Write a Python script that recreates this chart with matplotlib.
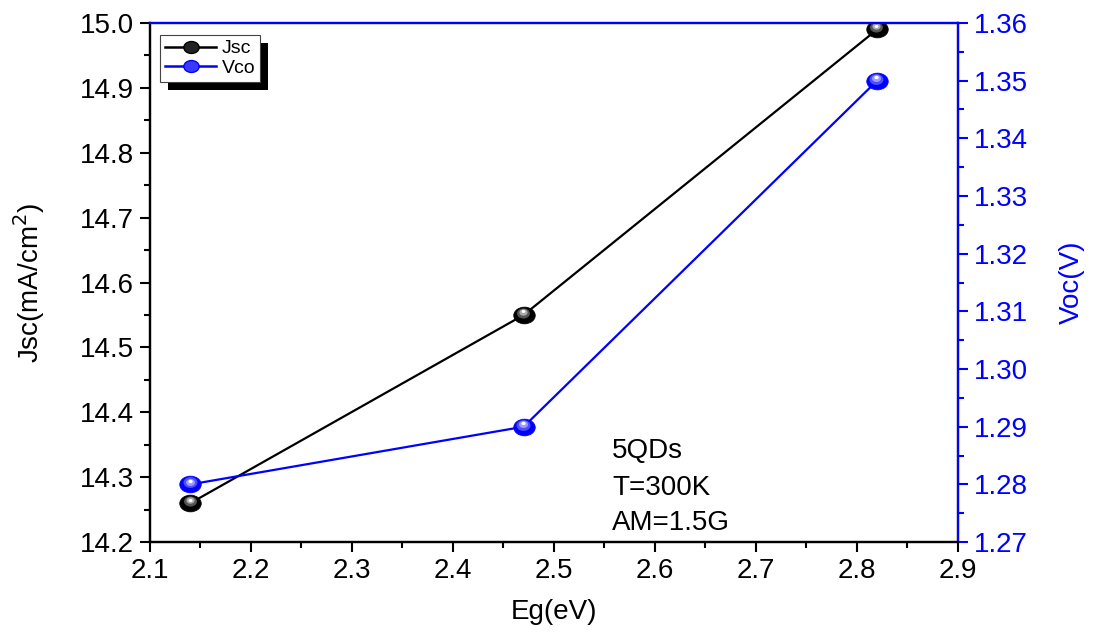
import numpy as np
import matplotlib.pyplot as plt
from matplotlib.path import Path
from matplotlib.patches import Rectangle
from matplotlib.transforms import offset_copy, Affine2D
from matplotlib.ticker import MultipleLocator, FormatStrFormatter

plt.rcParams['font.family'] = ['Liberation Sans', 'DejaVu Sans']

# band gap vs short-circuit current and open-circuit voltage
eg = [2.14, 2.47, 2.82]
jsc = [14.26, 14.55, 14.99]
voc = [1.28, 1.29, 1.35]

blue = '#0000ff'
fs = 20

# slightly flattened ball marker
ball = Path(Affine2D().scale(1.0, 0.78).transform(Path.unit_circle().vertices),
            Path.unit_circle().codes)

fig = plt.figure(figsize=(11.01, 6.37), dpi=100)
ax = fig.add_axes([0.1362, 0.149, 0.7339, 0.815])
ax2 = ax.twinx()


def shaded(axis, x, y, base, layers, ms=15.5):
    axis.plot(x, y, ls='none', marker=ball, ms=ms, mfc=base, mec=base, mew=0.5, zorder=4)
    for frac, dx, dy, col in layers:
        tr = offset_copy(axis.transData, fig=fig, x=dx, y=dy, units='points')
        axis.plot(x, y, ls='none', marker=ball, ms=ms * frac, mfc=col, mec='none',
                  transform=tr, zorder=5)


ax.plot(eg, jsc, color='black', lw=1.6, zorder=3)
shaded(ax, eg, jsc, 'black',
       [(0.6, -0.5, 1.6, '#555555'), (0.38, -0.6, 2.2, '#aaaaaa'),
        (0.18, -0.6, 2.6, 'white')])

ax2.plot(eg, voc, color=blue, lw=1.6, zorder=3)
shaded(ax2, eg, voc, blue,
       [(0.65, -0.5, 1.4, '#4d4dff'), (0.42, -0.6, 2.0, '#9a9aff'),
        (0.2, -0.6, 2.5, 'white')])

ax.set_xlim(2.1, 2.9)
ax.set_ylim(14.2, 15.0)
ax2.set_ylim(1.27, 1.36)

ax.xaxis.set_major_locator(MultipleLocator(0.1))
ax.xaxis.set_minor_locator(MultipleLocator(0.05))
ax.xaxis.set_major_formatter(FormatStrFormatter('%.1f'))
ax.yaxis.set_major_locator(MultipleLocator(0.1))
ax.yaxis.set_minor_locator(MultipleLocator(0.05))
ax.yaxis.set_major_formatter(FormatStrFormatter('%.1f'))
ax2.yaxis.set_major_locator(MultipleLocator(0.01))
ax2.yaxis.set_minor_locator(MultipleLocator(0.005))
ax2.yaxis.set_major_formatter(FormatStrFormatter('%.2f'))

for a in (ax, ax2):
    for s in a.spines.values():
        s.set_linewidth(1.6)
    a.spines['top'].set_color(blue)
ax2.spines['right'].set_color(blue)
ax2.spines['left'].set_color('black')

ax.tick_params(which='major', direction='out', length=7.5, width=1.5, labelsize=fs, pad=4)
ax.tick_params(which='minor', direction='out', length=4, width=1.5)
ax.tick_params(top=False, which='both')
ax2.tick_params(which='major', direction='out', length=7.5, width=1.5, labelsize=fs,
                colors=blue, pad=4)
ax2.tick_params(which='minor', direction='out', length=4, width=1.5, colors=blue)

ax.set_xlabel('Eg(eV)', fontsize=fs, labelpad=11)
ax.set_ylabel('Jsc(mA/cm$^2$)', fontsize=fs, labelpad=24)
ax2.set_ylabel('Voc(V)', fontsize=fs, color=blue, labelpad=22)

for txt, yy in [('5QDs', 0.162), ('T=300K', 0.091), ('AM=1.5G', 0.023)]:
    ax.text(0.572, yy, txt, transform=ax.transAxes, fontsize=fs, va='baseline', ha='left')

# legend with a solid offset shadow
h1 = ax.plot([], [], color='black', lw=1.8, marker=ball, ms=11, mfc='#222222', mec='black')[0]
h2 = ax.plot([], [], color=blue, lw=1.8, marker=ball, ms=11, mfc='#3a3aff', mec=blue)[0]
leg = ax2.legend([h1, h2], ['Jsc', 'Vco'], loc='upper left', bbox_to_anchor=(0.013, 0.977),
                 fontsize=14, handlelength=2.6, handletextpad=0.3, borderpad=0.25,
                 labelspacing=0.1, fancybox=False, framealpha=1, edgecolor='#444444',
                 borderaxespad=0)
leg.get_frame().set_linewidth(0.8)
leg.set_zorder(10)

fig.canvas.draw()
bb = leg.get_window_extent().transformed(fig.transFigure.inverted())
dx, dy = 8 / 1101, 8 / 637
shadow = Rectangle((bb.x0 + dx, bb.y0 - dy), bb.width, bb.height,
                   transform=fig.transFigure, facecolor='black',
                   edgecolor='none', zorder=9, clip_on=False)
ax2.add_patch(shadow)

fig.savefig('out.png', dpi=100)
